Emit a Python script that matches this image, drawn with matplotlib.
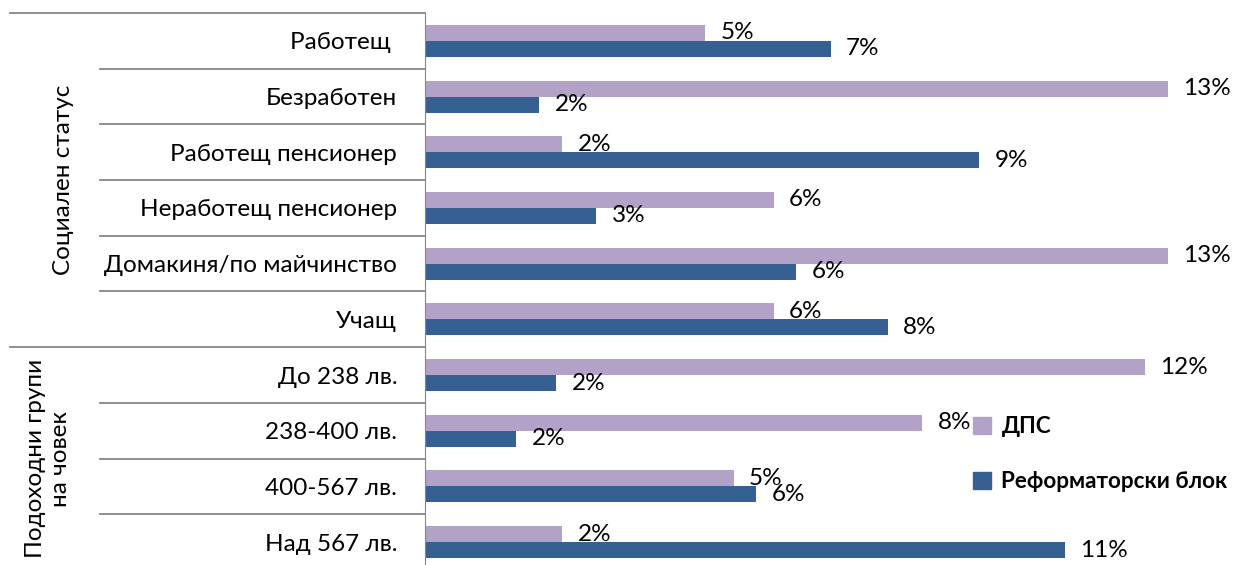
import numpy as np
import matplotlib
matplotlib.use('Agg')
import matplotlib.pyplot as plt
from matplotlib.patches import Patch

plt.rcParams['font.family'] = ['Lato', 'DejaVu Sans']

# Categories (top to bottom) and series values in %
categories = ['Работещ ', 'Безработен', 'Работещ пенсионер', 'Неработещ пенсионер',
              'Домакиня/по майчинство', 'Учащ',
              'До 238 лв.', '238-400 лв.', '400-567 лв.', 'Над 567 лв.']
dps = [4.9, 13.0, 2.4, 6.1, 13.0, 6.1, 12.6, 8.7, 5.4, 2.4]
rb = [7.1, 2.0, 9.7, 3.0, 6.5, 8.1, 2.3, 1.6, 5.8, 11.2]
dps_labels = ['5%', '13%', '2%', '6%', '13%', '6%', '12%', '8%', '5%', '2%']
rb_labels = ['7%', '2%', '9%', '3%', '6%', '8%', '2%', '2%', '6%', '11%']
groups = ['Социален статус', 'Подоходни групи\nна човек']
group_sizes = [6, 4]

W, H = 1246, 565
fig = plt.figure(figsize=(W / 100, H / 100), dpi=100)
ax_left, ax_w = 425, 800
ax_top, ax_h = 13, 557
ax = fig.add_axes([ax_left / W, (H - ax_top - ax_h) / H, ax_w / W, ax_h / H])

fs = 17.5
c_dps = '#B3A2C7'
c_rb = '#376092'
y = np.arange(len(categories))
bh = 0.288
ax.barh(y - bh / 2, dps, height=bh, color=c_dps, label='ДПС')
ax.barh(y + bh / 2, rb, height=bh, color=c_rb, label='Реформаторски блок')

for i in range(len(categories)):
    ax.annotate(dps_labels[i], (dps[i], y[i] - bh / 2), xytext=(11, 0),
                textcoords='offset points', va='center', ha='left', fontsize=fs)
    ax.annotate(rb_labels[i], (rb[i], y[i] + bh / 2), xytext=(11, 0),
                textcoords='offset points', va='center', ha='left', fontsize=fs)

ax.set_xlim(0, 14)
ax.set_ylim(len(categories) - 0.5, -0.5)
ax.set_yticks(y)
ax.set_yticklabels(categories, fontsize=fs)
ax.tick_params(axis='y', length=0, pad=20)
ax.set_xticks([])
for s in ['top', 'right', 'bottom']:
    ax.spines[s].set_visible(False)
ax.spines['left'].set_color('#868686')

# separator lines in the label area
tr = ax.get_yaxis_transform()
x_inner = (100 - ax_left) / ax_w
x_outer = (10 - ax_left) / ax_w
start = 0
bounds = [0]
for n in group_sizes:
    start += n
    bounds.append(start)
for k in range(len(categories) + 1):
    yy = k - 0.5
    x0 = x_outer if k in bounds else x_inner
    ax.plot([x0, 0], [yy, yy], transform=tr, color='#868686', lw=1.3, clip_on=False)

# group labels
group_x = [(64 - ax_left) / ax_w, (48 - ax_left) / ax_w]
for g, name in enumerate(groups):
    mid = (bounds[g] + bounds[g + 1]) / 2 - 0.5
    ax.text(group_x[g], mid, name, transform=tr, rotation=90, ha='center',
            va='center', fontsize=fs, linespacing=1.2)

handles = [Patch(color=c_dps, label='ДПС'), Patch(color=c_rb, label='Реформаторски блок')]
leg = fig.legend(handles=handles, loc='upper left', bbox_to_anchor=(953 / W, 1 - 396 / H),
                 frameon=False, prop={'weight': 'bold', 'size': 16.2}, handlelength=0.8,
                 handleheight=0.8, handletextpad=0.45, labelspacing=1.5)

fig.savefig('out.png', dpi=100)
